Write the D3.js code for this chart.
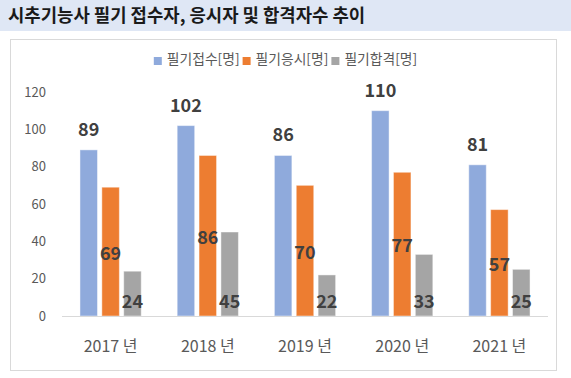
<!DOCTYPE html>
<html>
<head>
<meta charset="utf-8">
<script src="https://cdn.jsdelivr.net/npm/d3@7"></script>
<style>
  body { margin: 0; background: #fff; }
  svg { display: block; font-family: "Noto Sans CJK KR", "Noto Sans", sans-serif; }
</style>
</head>
<body>
<div id="chart"></div>
<script>
var title = "시추기능사 필기 접수자, 응시자 및 합격자수 추이";
var categories = ["2017 년", "2018 년", "2019 년", "2020 년", "2021 년"];
var seriesNames = ["필기접수[명]", "필기응시[명]", "필기합격[명]"];
var applied = [89, 102, 86, 110, 81];
var tested = [69, 86, 70, 77, 57];
var passed = [24, 45, 22, 33, 25];
var yTicks = [0, 20, 40, 60, 80, 100, 120];

var colors = ["#8faadc", "#ed7d31", "#a5a5a5"];
var allSeries = [applied, tested, passed];

var width = 571, height = 378;

var svg = d3.select("#chart").append("svg")
    .attr("width", width)
    .attr("height", height);

// title band
svg.append("rect")
    .attr("x", 0).attr("y", 0)
    .attr("width", width).attr("height", 31)
    .style("fill", "#dfe7f5");

svg.append("text")
    .attr("x", 8)
    .attr("y", 22)
    .attr("font-weight", "bold")
    .style("font-size", "17.8px")
    .style("fill", "#1a1a1a")
    .text(title);

// chart frame
svg.append("rect")
    .attr("x", 10.5).attr("y", 39.5)
    .attr("width", 546).attr("height", 331)
    .style("fill", "#fff")
    .style("stroke", "#d9d9d9")
    .style("stroke-width", "1px");

var x0 = d3.scaleBand()
    .domain(categories)
    .range([62, 548])
    .paddingInner(0.37)
    .paddingOuter(0.185);

var x1 = d3.scaleBand()
    .domain(d3.range(seriesNames.length))
    .range([0, x0.bandwidth()])
    .paddingInner(0.2);

var y = d3.scaleLinear()
    .domain([0, 120])
    .range([316, 92]);

// y axis labels only
var yAxis = d3.axisLeft(y)
    .tickValues(yTicks)
    .tickSize(0)
    .tickPadding(0);

var gy = svg.append("g")
    .attr("transform", "translate(46,0)")
    .call(yAxis);
gy.select(".domain").remove();
gy.selectAll(".tick text")
    .style("font-family", "\"Noto Sans CJK KR\", sans-serif")
    .style("font-size", "13px")
    .style("fill", "#595959");

// bars
var groups = svg.append("g").selectAll("g")
    .data(categories)
    .join("g")
    .attr("transform", d => "translate(" + x0(d) + ",0)");

groups.selectAll("rect")
    .data((d, i) => allSeries.map((s, k) => ({ k: k, v: s[i] })))
    .join("rect")
    .attr("x", d => x1(d.k))
    .attr("y", d => y(d.v))
    .attr("width", x1.bandwidth())
    .attr("height", d => y(0) - y(d.v))
    .style("fill", d => colors[d.k])
    .style("stroke", "#ffffff")
    .style("stroke-opacity", 0.45)
    .style("stroke-width", "1px");

// baseline
svg.append("line")
    .attr("x1", 62).attr("x2", 548)
    .attr("y1", y(0) + 0.5).attr("y2", y(0) + 0.5)
    .style("stroke", "#d9d9d9")
    .style("stroke-width", "1px");

// data labels
groups.selectAll("text.val")
    .data((d, i) => allSeries.map((s, k) => ({ k: k, v: s[i] })))
    .join("text")
    .attr("class", "val")
    .attr("x", d => x1(d.k) + x1.bandwidth() / 2)
    .attr("y", d => d.k === 0 ? y(d.v) - 22 : d.k === 1 ? y(d.v / 2) : y(0) - 16)
    .attr("text-anchor", "middle")
    .attr("dominant-baseline", "central")
    .attr("font-weight", "bold")
    .style("font-size", "18px")
    .style("fill", "#404040")
    .text(d => d.v);

// x axis labels
var xAxis = d3.axisBottom(x0).tickSize(0).tickPadding(0);
var gx = svg.append("g")
    .attr("transform", "translate(0,352)")
    .call(xAxis);
gx.select(".domain").remove();
gx.selectAll(".tick text")
    .attr("dy", null)
    .attr("y", 0)
    .style("font-family", "\"Noto Sans CJK KR\", sans-serif")
    .style("font-size", "16px")
    .style("fill", "#595959");

// legend
var legend = svg.append("g");
var lx = 0;
seriesNames.forEach((name, k) => {
    var item = legend.append("g").attr("transform", "translate(" + lx + ",0)");
    item.append("rect")
        .attr("x", 0).attr("y", 57)
        .attr("width", 8).attr("height", 8)
        .style("fill", colors[k]);
    var t = item.append("text")
        .attr("x", 13).attr("y", 58)
        .attr("dominant-baseline", "central")
        .style("font-size", "13.8px")
        .style("fill", "#595959")
        .text(name);
    lx += 13 + t.node().getComputedTextLength() + 3;
});
var legendW = lx - 3;
legend.attr("transform", "translate(" + (285.5 - legendW / 2) + ",0)");
</script>
</body>
</html>
